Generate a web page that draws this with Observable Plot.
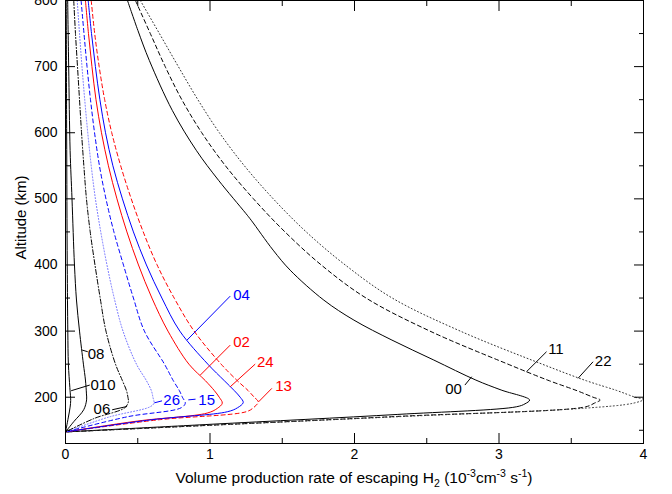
<!DOCTYPE html>
<html><head><meta charset="utf-8">
<script src="https://cdn.jsdelivr.net/npm/d3@7"></script>
<script src="https://cdn.jsdelivr.net/npm/@observablehq/plot@0.6"></script>
<style>body{margin:0;background:#fff;} svg{display:block;}</style>
</head><body><div id="chart"></div>
<script>
// ---- data (x: 10^-3 cm^-3 s^-1, alt: km) ----
const alt00 = [800,754.7,709.4,633.8,573.4,528.1,478.2,467.7,422.4,392.1,346.8,316.6,286.4,256.2,225.9,210.9,195.8,190,185.5,174,159,147.5];
const x00   = [0.429,0.501,0.580,0.739,0.905,1.059,1.247,1.285,1.437,1.555,1.788,1.996,2.259,2.549,2.840,3.015,3.212,3.18,3.12,2.30,1.00,0];
const alt11 = [800,750,700,650,600,550,500,450,400,350,300,250,225,210,200,195.8,191,185.5,171,147.5];
const x11   = [0.484,0.587,0.690,0.805,0.943,1.107,1.301,1.519,1.770,2.080,2.522,3.062,3.347,3.538,3.651,3.700,3.66,3.60,2.30,0];
const alt22 = [800,750,700,650,600,550,500,450,400,350,300,250,225,210,200,196.5,191,183.5,170.5,147.5];
const x22   = [0.518,0.650,0.781,0.916,1.065,1.238,1.438,1.666,1.936,2.261,2.732,3.299,3.603,3.817,3.942,4.0,3.93,3.60,2.30,0];
const alt13 = [800,750,700,650,600,550,500,450,400,350,300,250,225,210,200,193,184,178,166,147.5];
const x13   = [0.178,0.202,0.233,0.271,0.320,0.382,0.455,0.538,0.634,0.752,0.890,1.077,1.189,1.264,1.306,1.334,1.30,1.25,0.65,0];
const alt02 = [800,750,700,650,600,550,500,450,400,350,300,250,225,210,200,191,183,176,164,147.5];
const x02   = [0.138,0.159,0.183,0.211,0.249,0.297,0.356,0.425,0.505,0.598,0.709,0.854,0.968,1.030,1.064,1.085,1.05,0.98,0.50,0];
const alt04 = [800,750,700,650,600,550,500,450,400,350,300,250,225,210,200,192,184,178,166,147.5];
const x04   = [0.157,0.180,0.207,0.238,0.277,0.328,0.394,0.470,0.560,0.667,0.791,0.985,1.099,1.168,1.209,1.230,1.19,1.12,0.60,0];
const alt15 = [800,750,700,650,600,550,500,450,400,350,300,250,225,210,200,191,184,170.5,147.5];
const x15   = [0.108,0.128,0.149,0.173,0.201,0.235,0.280,0.335,0.401,0.470,0.546,0.685,0.746,0.788,0.809,0.829,0.80,0.43,0];
const alt26 = [800,750,700,650,600,550,500,450,400,350,300,250,225,210,200,191,185.5,170,147.5];
const x26   = [0.081,0.097,0.114,0.133,0.154,0.178,0.207,0.244,0.287,0.337,0.398,0.491,0.560,0.594,0.605,0.612,0.585,0.30,0];
const alt06 = [800,750,700,650,600,550,500,450,400,350,300,250,225,210,200,193,184,168,147.5];
const x06   = [0.057,0.069,0.083,0.097,0.111,0.127,0.145,0.171,0.204,0.240,0.280,0.346,0.394,0.422,0.432,0.435,0.41,0.20,0];
const alt08 = [800,700,573,500,400,347,300,250,226,205,196,181,163,147.5];
const x08   = [0.015,0.022,0.032,0.045,0.062,0.076,0.097,0.124,0.138,0.145,0.146,0.126,0.057,0];
const alt010 = [800,600,400,300,250,215,200,195,185,170,155,147.5];
const x010   = [0.005,0.008,0.012,0.016,0.020,0.030,0.035,0.036,0.032,0.020,0.007,0];

// curve labels and leader lines
const labelNames = ["04","02","24","13","15","26","06","010","08","00","11","22"];
const labelColors = ["blue","red","red","red","blue","blue","black","black","black","black","black","black"];
const labelX = [1.161,1.161,1.325,1.451,0.919,0.677,0.194,0.173,0.154,2.628,3.34,3.663];
const labelY = [353.6,282.6,252.4,216.9,195,195,182.2,218,265.2,212.4,272.8,254.7];
const leadX1 = [1.14,1.14,1.313,1.428,0.85,0.615,0.323,0.168,0.154,2.764,3.329,3.651];
const leadY1 = [352.9,278.8,250.1,213.4,196,191.5,181,218.4,268.8,218.4,268.8,253.6];
const leadX2 = [0.841,0.933,1.14,1.336,0.9,0.668,0.426,0.039,0.115,2.811,3.19,3.547];
const leadY2 = [286.4,233.5,215.8,193,197,194.5,186,209.8,271.3,231,238.5,228.6];

const xMajor = [0,1,2,3,4];
const xMinor = [0.5,1.5,2.5,3.5];
const yMajor = [200,300,400,500,600,700,800];
const yMinor = [150,250,350,450,550,650,750];

const curves = [
  {xs:x00, ys:alt00, stroke:"black", dash:null},
  {xs:x11, ys:alt11, stroke:"black", dash:"4,3"},
  {xs:x22, ys:alt22, stroke:"#333", dash:"1,2.5"},
  {xs:x13, ys:alt13, stroke:"red", dash:"4,3"},
  {xs:x02, ys:alt02, stroke:"red", dash:null},
  {xs:x04, ys:alt04, stroke:"blue", dash:null},
  {xs:x15, ys:alt15, stroke:"blue", dash:"4,3"},
  {xs:x26, ys:alt26, stroke:"#6f6fff", dash:"1,2"},
  {xs:x06, ys:alt06, stroke:"black", dash:"5,2,1,2"},
  {xs:x08, ys:alt08, stroke:"black", dash:null},
  {xs:x010, ys:alt010, stroke:"black", dash:null}
];

const labels = labelNames.map((t,i)=>({t, c:labelColors[i], x:labelX[i], y:labelY[i],
  x1:leadX1[i], y1:leadY1[i], x2:leadX2[i], y2:leadY2[i]}));

const lineMarks = curves.map(c => Plot.line(c.xs.map((x,i)=>({x, y:c.ys[i]})), {
  x:"x", y:"y", stroke:c.stroke, strokeWidth:1, strokeDasharray:c.dash,
  curve:"catmull-rom", clip:true
}));

const W = 672, H = 494;
const chart = Plot.plot({
  width: W, height: H,
  marginLeft: 65, marginRight: 29, marginTop: 0, marginBottom: 51,
  style: {fontFamily: "'Liberation Sans', Arial, sans-serif", fontSize: "14px", background: "white", color: "black"},
  x: {domain: [0,4]},
  y: {domain: [130,800]},
  color: {type: "identity"},
  marks: [
    ...lineMarks,
    Plot.link(labels, {x1:"x1", y1:"y1", x2:"x2", y2:"y2", stroke:"c", strokeWidth:1}),
    Plot.text(labels, {x:"x", y:"y", text:"t", fill:"c", textAnchor:"start", fontSize:15}),
    Plot.frame({stroke:"black", strokeWidth:1}),
    Plot.axisX(xMajor, {anchor:"bottom", tickSize:-10, fill:"none", label:null}),
    Plot.axisX(xMinor, {anchor:"bottom", tickSize:-5, fill:"none", label:null}),
    Plot.axisX(xMajor, {anchor:"top", tickSize:-10, fill:"none", label:null}),
    Plot.axisX(xMinor, {anchor:"top", tickSize:-5, fill:"none", label:null}),
    Plot.axisY(yMajor, {anchor:"left", tickSize:-10, fill:"none", label:null}),
    Plot.axisY(yMinor, {anchor:"left", tickSize:-5, fill:"none", label:null}),
    Plot.axisY(yMajor, {anchor:"right", tickSize:-10, fill:"none", label:null}),
    Plot.axisY(yMinor, {anchor:"right", tickSize:-5, fill:"none", label:null}),
    Plot.axisX(xMajor, {anchor:"bottom", tickSize:0, tickPadding:6, fontSize:14, label:null, tickFormat: d => String(d)}),
    Plot.axisY(yMajor, {anchor:"left", tickSize:0, tickPadding:8, fontSize:14, label:null, tickFormat: d => String(d)})
  ]
});
document.getElementById("chart").appendChild(chart);

// axis titles with sub/superscripts
const sx = chart.scale("x"), sy = chart.scale("y");
const svg = d3.select(chart);
const xt = svg.append("text")
  .attr("x", (sx.apply(0)+sx.apply(4))/2).attr("y", H-11)
  .attr("text-anchor","middle").attr("font-size",15.5).attr("fill","black");
const parts = [["Volume production rate of escaping H",0],["2",1],[" (10",0],["-3",2],["cm",0],["-3",2],[" s",0],["-1",2],[")",0]];
let shift = 0;
for (const [s,k] of parts) {
  const target = k===1 ? 4 : k===2 ? -6 : 0;
  xt.append("tspan").attr("dy", target-shift).attr("font-size", k ? 10.5 : 15.5).text(s);
  shift = target;
}
const yc = (sy.apply(130)+sy.apply(800))/2 - 4;
svg.append("text").attr("transform", `translate(26,${yc}) rotate(-90)`)
  .attr("text-anchor","middle").attr("font-size",15).attr("fill","black").text("Altitude (km)");
</script></body></html>
